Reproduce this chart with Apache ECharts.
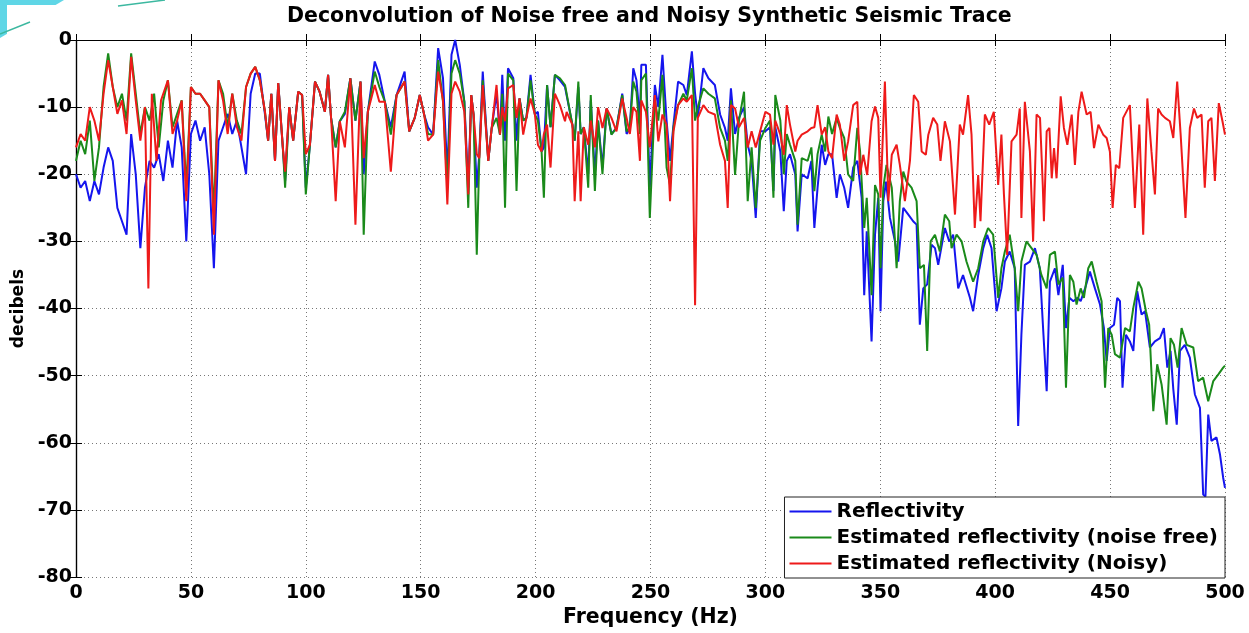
<!DOCTYPE html>
<html><head><meta charset="utf-8">
<script src="https://cdn.jsdelivr.net/npm/echarts@6/dist/echarts.min.js"></script>
<style>html,body{margin:0;padding:0;background:#fff}#c{width:1249px;height:633px}</style>
</head><body><div id="c"></div>
<script>
const titleText = 'Deconvolution of Noise free and Noisy Synthetic Seismic Trace';
const xName = 'Frequency (Hz)';
const yName = 'decibels';
const seriesNames = ['Reflectivity', 'Estimated reflectivity (noise free)', 'Estimated reflectivity (Noisy)'];

const reflectivity = [[0,-20],[2,-22],[4,-21],[6,-24],[8,-21],[10,-23],[12,-19],[14,-16],[16,-18],[18,-25],[20,-27],[22,-29],[24,-14],[26,-20],[28,-31],[30,-22],[32,-18],[34,-19],[36,-17],[38,-21],[40,-15],[42,-19],[44,-12],[46,-16],[48,-30],[50,-14],[52,-12],[54,-15],[56,-13],[58,-20],[60,-34],[62,-15],[64,-13],[66,-11],[68,-14],[70,-12],[72,-16],[74,-20],[76,-8],[78,-5],[80,-5],
[82.2,-11],[83.6,-15],[85,-8],[86.6,-18],[88,-6.4],[90,-16],[91,-21],[92.8,-10],[94.5,-15],[96.7,-7.7],[98.4,-8.2],[100,-22],[101.8,-15.6],[104,-6.2],[106,-7.7],[108.3,-10.7],[109.7,-5.2],[111,-11.6],[113,-16],[114.8,-12.1],[117,-11],[119.4,-5.7],[121.6,-12],[123.8,-6.2],[125.2,-20],[127,-10.7],[130,-3.2],[132,-5.2],[134.4,-9.2],[137,-13],[139.5,-8.2],[143,-4.7],[145,-13.6],[147.4,-11.6],[149.6,-8.2],[151.5,-11.1],[153.2,-13],[155.4,-14.1],[157.6,-1.2],[159.7,-5.7],[161.6,-20],[163.4,-2.2],[165,0],[167,-3.7],[169,-9.2],[170.7,-22],[172,-8.2],[173,-11.1],[174.4,-22],[175.5,-17],[177,-4.7],[179.4,-18],[180.9,-13.1],[183,-8],[184.5,-14.1],[185.5,-5.2],[186.7,-15],[188,-4.2],[190.3,-5.7],[191.7,-15],[193,-8.7],[194.6,-12],[196,-11.6],[197.8,-5.2],[199.7,-11.1],[201,-10.7],[202.6,-16.6],[203.6,-16],[205,-6.7],[206.5,-13],[208.4,-5.2],[210.6,-6],[212.8,-7],[216,-12.6],[217,-15],[218.6,-7],[219.6,-14],[221,-13],[222.9,-20],[224,-9],[225.8,-20],[227.2,-12],[229.1,-19],[230.9,-10.2],[233,-14],[235.2,-13.1],[237.7,-8],[239.6,-14],[241,-13.1],[242.5,-4.2],[243.9,-6],[245.4,-12],[246,-3.7],[248,-3.7],[249.7,-22],[251.9,-6.7],[253.4,-10],[255.2,-2.2],[257,-12],[258.5,-18],[260,-12.6],[262,-6.2],[264.3,-6.7],[265.8,-8.2],[268,-1.7],[269.4,-8],[270.6,-11.6],[273,-4.2],[275.2,-5.7],[278,-6.7],[280.3,-11.1],[282.4,-13.1],[283.6,-15],[285,-7.2],[286.8,-14],[288.5,-11.6],[290.7,-10],[292.3,-15.6],[294,-18],[295.8,-26.5],[297.7,-13.6],[300,-13.6],[302,-13],[303.5,-22.5],[304.3,-13],[306.5,-16.6],[308,-25.5],[309.3,-18],[310.7,-17],[313,-20],[314,-28.5],[315.8,-20],[318.4,-20.6],[320,-18],[321.3,-28],[322.7,-22],[324.5,-15.6],[326,-18.6],[327.4,-17],[329,-17],[331,-23.5],[332.4,-20],[334.3,-22],[336,-25],[338.2,-19],
[340,-18],[341.9,-23.5],[343,-38],[344.1,-28.5],[346.2,-44.9],[347.7,-29],[349.1,-23.5],[350.1,-40.4],[351.3,-24],[352.5,-21.1],[354.2,-26.5],[356.4,-30],[357.8,-33],[360,-25],[362.2,-26],[364.3,-27],[365.8,-27.5],[367.2,-42.4],[368.7,-37],[370.4,-36.4],[372.3,-30.5],[373.8,-31],[375.2,-33.5],[378.1,-28],[380,-30],[381.7,-29],[383.9,-37],[386,-35],[389,-38.4],[390.4,-40.4],[392.6,-35],[394.8,-31],[396.5,-29],[398.4,-31],[400.6,-40.4],[402.7,-37],[404.2,-33],[406.3,-31.5],[408.5,-34],[410,-57.5],[411.4,-43.9],[412.9,-33.5],[415.1,-33],[417.3,-31],[419.4,-34],[421,-43.9],[422.4,-52.3],[423.8,-36],[426,-34],[427.5,-38],[429.4,-33.5],[430.8,-42.9],[432.3,-38.4],[434,-38.9],[435.8,-38.4],[437.2,-38.9],[439.1,-37],[441.2,-34.5],[443.4,-37],[445.6,-39.4],[447.3,-42.9],[448.5,-47.8],[449.9,-42.9],[451.7,-42.4],[453.1,-38.4],[454.3,-38.9],[455.4,-51.8],[456.9,-43.9],[458.6,-44.9],[460.1,-46.3],[461.8,-37.4],[463.7,-40.9],[465.2,-40.4],[467.3,-45.8],[469.5,-44.9],[471.7,-44.4],[473.4,-42.9],[474.9,-48.8],[476.3,-46.3],[477.5,-52],[479,-57.3],[480.4,-46.3],[482.5,-45.4],[484.7,-47.3],[486.9,-52.8],[489.1,-54.8],[490.5,-67.7],[491.5,-68],[492.7,-55.8],[494.1,-59.7],[496.3,-59.2],[497.8,-61.7],[499.2,-65.2],[500,-66.7]];

const estNoiseFree = [[0,-18],[2,-15],[4,-17],[6,-12],[8,-21],[10,-16],[12,-7],[14,-2],[16,-7],[18,-10],[20,-8],[22,-12],[24,-2],[26,-8],[28,-14],[30,-10],[32,-12],[34,-8],[36,-16],[38,-9],[40,-6],[42,-13],[44,-11],[46,-9],[48,-22],[50,-7],[52,-8],[54,-8],[56,-9],[58,-10],[60,-26],[62,-6],[64,-8],[66,-13],[68,-8],[70,-12],[72,-14],[74,-7],[76,-5],[78,-4],[80,-6],
[82.2,-10.6],[83.6,-15],[85,-8],[86.6,-18],[88,-6.4],[90,-16],[91,-22],[92.8,-10],[94.5,-15],[96.7,-7.7],[98.4,-8.2],[100,-23],[101.8,-15.6],[104,-6.2],[106,-7.7],[108.3,-10.7],[109.7,-5.2],[111,-11.6],[113,-16],[114.8,-12.1],[117,-10.7],[119.4,-5.7],[121.6,-12],[123.8,-6.2],[125.2,-29],[127,-10.7],[130,-4.7],[132,-7],[134.4,-9.2],[137,-14.1],[139.5,-8.2],[143,-6.2],[145,-13.6],[147.4,-11.6],[149.6,-8.2],[151.5,-11.1],[153.2,-14],[155.4,-14.1],[157.6,-3],[159.7,-9.2],[161.6,-22],[163.4,-5],[165,-3],[167,-5],[169,-9.2],[170.7,-25],[172,-8.2],[173,-11.1],[174.4,-32],[175.5,-17.6],[177,-6],[179.4,-18],[180.9,-13.1],[183,-11.6],[184.5,-14.1],[185.5,-8],[186.7,-25],[188,-5],[190.3,-6],[191.7,-22.5],[193,-8.7],[194.6,-12],[196,-11.6],[197.8,-6],[199.7,-11.1],[201,-12],[202.6,-16.6],[203.6,-23.5],[205,-6.7],[206.5,-13],[208.4,-5.2],[210.6,-5.7],[212.8,-6.7],[216,-12.6],[217,-15],[218.6,-6.2],[219.6,-14],[221,-13],[222.9,-22],[224,-8.2],[225.8,-22.5],[227.2,-12],[229.1,-20],[230.9,-10.2],[233,-14.1],[235.2,-13.1],[237.7,-8.2],[239.6,-13.6],[241,-13],[242.5,-6.2],[243.9,-7.7],[245.4,-14],[246,-6],[248,-5],[249.7,-26.5],[251.9,-9],[253.4,-12],[255.2,-5.2],[257,-19],[258.5,-21.6],[260,-13],[262,-9.7],[264.3,-8],[265.8,-9],[268,-4.2],[269.4,-12],[270.6,-10],[273,-7.2],[275.2,-8],[278,-8.7],[280.3,-13.1],[282.4,-15],[283.6,-18],[285,-9],[286.8,-20.1],[288.5,-12],[290.7,-7.7],[292.3,-24],[294,-16],[295.8,-25],[297.7,-15],[300,-13.1],[302,-12],[303.5,-23.5],[304.3,-8.2],[306.5,-12],[308,-20],[309.3,-14],[310.7,-15.6],[313,-18],[314,-27.5],[315.8,-17.6],[318.4,-18],[320,-16],[321.3,-22.5],[322.7,-17],[324.5,-14.1],[326,-16.6],[327.4,-11.4],[329,-14],[331,-11.6],[332.4,-13.1],[334.3,-14.6],[336,-20],[338.2,-21],
[340,-13.1],[341.2,-16.6],[343,-28],[344.1,-23.5],[346.2,-38],[347.7,-21.6],[349.1,-23],[350.1,-34],[351.3,-22],[352.7,-18.6],[355,-22],[357.1,-34],[358.5,-24],[360,-19.6],[361.4,-21.1],[363.6,-22],[365.8,-24],[367.2,-34],[369,-33.5],[370.4,-46.3],[371.9,-30],[373.8,-29],[375.9,-31.5],[378.1,-26],[380,-27],[381,-31],[383.2,-29],[385.4,-30],[387.5,-33],[390.4,-36],[392.6,-34],[394.8,-30],[396.9,-28],[399.1,-29],[401.3,-38.4],[402.7,-34],[404.2,-31.5],[406.3,-29],[408.5,-34],[410,-40.4],[411.4,-33],[413.6,-30],[415.8,-31],[418,-32],[420.1,-35],[422.4,-37],[423.8,-32],[426,-31.5],[427.5,-36.4],[429.4,-35.4],[430.8,-51.8],[432.5,-35],[434,-36],[435.4,-39.4],[437.2,-37],[438.6,-38.4],[440.5,-34],[442,-33],[444.1,-36],[446.3,-38.9],[447.8,-51.8],[449.2,-42.9],[450.7,-43.9],[452.1,-46.8],[454.3,-47.3],[456.5,-42.9],[458.6,-43.4],[460.1,-39.9],[462.3,-36],[463.7,-37],[465.6,-40.4],[467,-42.4],[468.8,-55.3],[470.5,-48.3],[472.4,-51.3],[474.6,-57.3],[476.3,-44.4],[477.8,-45.4],[479.4,-48.8],[481.1,-42.9],[483.3,-45.4],[486.2,-45.8],[488.3,-50.8],[490.5,-50.3],[492.7,-53.8],[494.9,-50.8],[497.1,-49.8],[499.2,-48.8],[500,-48.5]];

const estNoisy = [[0,-16],[2,-14],[4,-15],[6,-10],[8,-12],[10,-15],[12,-8],[14,-3],[16,-7],[18,-11],[20,-9],[22,-14],[24,-2.5],[26,-9],[28,-15],[30,-10],[31.5,-37],[33,-8],[35,-18],[37,-9],[40,-6],[42,-14],[44,-12],[46,-9],[48,-24],[50,-7],[52,-8],[54,-8],[56,-9],[58,-10],[60,-29],[62,-6],[64,-9],[66,-14],[68,-8],[70,-13],[72,-15],[74,-7],[76,-5],[78,-4],[80,-6],
[82.2,-10.6],[83.6,-15],[85,-8],[86.6,-18],[88,-6.4],[90,-16],[91,-19.6],[92.8,-10],[94.5,-15],[96.7,-7.7],[98.4,-8.2],[100,-17],[101.8,-15.6],[104,-6.2],[106,-7.7],[108.3,-10.7],[109.7,-5.2],[111,-11.6],[113,-24],[114.8,-12.1],[117,-16],[119.4,-5.7],[121.6,-27.5],[123.8,-6.2],[125.2,-17.6],[127,-10.7],[130,-6.7],[132,-9.2],[134.4,-9.2],[137,-19.6],[139.5,-8.2],[143,-6.2],[145,-13.6],[147.4,-11.6],[149.6,-8.2],[151.5,-11.1],[153.2,-15],[155.4,-14.1],[157.6,-4.7],[159.7,-9],[161.6,-24.5],[163.4,-8],[165,-6.2],[167,-7.7],[169,-10.7],[170.7,-23],[172,-8.2],[173,-11.1],[174.4,-17],[175.5,-17.6],[177,-6.7],[179.4,-18],[180.9,-13.1],[183,-6.7],[184.5,-14.1],[185.5,-10],[186.7,-12.1],[188,-7.2],[190.3,-6.7],[191.7,-11.6],[193,-8.7],[194.6,-14.1],[196,-11.6],[197.8,-8.7],[199.7,-11.1],[201,-15.6],[202.6,-16.6],[203.6,-14],[205,-12.6],[206.5,-19],[208.4,-8],[210.6,-9.7],[212.8,-12.1],[213.5,-10.7],[216,-12.6],[217,-24],[218.6,-13.6],[219.6,-24],[221,-13],[222.9,-15.6],[224,-12],[225.8,-16],[227.2,-10],[229.1,-13.1],[230.9,-10.2],[233,-11.6],[235.2,-13.6],[237.7,-8.7],[239.6,-11.6],[241,-14],[242.5,-10],[243.9,-10.7],[245.4,-18],[246,-9],[248,-10.7],[249.7,-16],[251.9,-8.2],[253.4,-15.1],[255.2,-11.1],[257,-12.6],[258.5,-24],[260,-13.6],[262,-9.7],[264.3,-8.7],[265.8,-9.2],[268,-8.2],[269.4,-39.5],[270.6,-11.6],[273,-9.7],[275.2,-10.7],[278,-11.1],[280.3,-15.6],[282.4,-18],[283.6,-25],[285,-9.7],[286.8,-10.2],[288.5,-13],[290.7,-11.6],[292.3,-16],[294,-13.6],[295.8,-16],[297.7,-13.6],[300,-10.7],[302,-11.1],[303.5,-15.6],[304.3,-12],[306.5,-14.1],[308,-17.1],[309.3,-9.7],[310.7,-12.6],[313,-16.6],[314,-15],[315.8,-14.1],[318.4,-13.6],[320,-13.1],[321.3,-13],[322.7,-9.7],[324.5,-14.1],[326,-13],[327.4,-16.6],[329,-17.6],[331,-11.1],[332.4,-12.6],[334.3,-18],[336,-15.1],[338.2,-9.7],
[340,-9.2],[341.2,-20.1],[342.6,-17.1],[344.3,-20.1],[346.2,-12.1],[347.7,-9.9],[349.1,-11.6],[350.1,-23.5],[352,-6.2],[353.5,-24],[355,-17.1],[357.1,-15.6],[358.5,-18.6],[360.7,-24],[362.9,-18],[364.6,-8.2],[366.5,-9.2],[368,-16.6],[369.8,-17.1],[370.9,-14.1],[373,-11.6],[374.8,-12.6],[376.2,-18],[378.1,-12.1],[380.3,-15.1],[382.5,-26],[384.6,-12.6],[386,-14.1],[388.2,-8.2],[389.7,-14.1],[391.1,-28],[392.6,-20.1],[393.6,-27],[395.5,-11.1],[397.4,-12.6],[399.4,-10.7],[401.3,-21.6],[402.7,-14.1],[403.8,-23],[405.2,-32],[407.1,-15.1],[409.3,-14.1],[410.7,-10.2],[411.4,-26.5],[412.9,-9.2],[415.1,-16.6],[416.5,-30],[418,-11.1],[419.5,-11.6],[420.7,-21.6],[421.2,-27],[422.4,-13.6],[423.6,-13.1],[424.6,-20.6],[425.6,-16.1],[426.7,-20.6],[428.5,-8.4],[429.9,-13.1],[431.4,-15.6],[433.3,-11.1],[434.7,-18.6],[436.2,-10.7],[437.6,-7.7],[439.8,-11.1],[441.5,-10.7],[443,-16.1],[444.9,-12.6],[447,-14.1],[448.5,-14.6],[449.9,-16.6],[451.1,-25],[452.5,-18.6],[454,-19.1],[455.7,-11.6],[458.6,-9.7],[460.8,-25],[462.7,-12.6],[464.4,-29],[466.2,-8.7],[468,-16.6],[469.5,-23],[470.9,-10.2],[472.4,-11.1],[473.9,-11.6],[476,-12.1],[477.5,-14.6],[479.2,-6.2],[480.7,-14.1],[482.8,-26.5],[484.7,-13.1],[486.5,-10.2],[487.9,-11.6],[489.8,-11.1],[491.2,-22],[492.7,-12.1],[494.1,-11.6],[495.6,-21],[497.3,-9.4],[498.9,-12.1],[500,-14.1]];

const xMin = 0, xMax = 500, xStep = 50;
const yMin = -80, yMax = 0, yStep = 10;

const chart = echarts.init(document.getElementById('c'), null, {renderer: 'canvas'});
const font = '"DejaVu Sans", Verdana, sans-serif';
const lbl = {color: '#000', fontFamily: font, fontWeight: 'bold', fontSize: 19};
const colors = ['#1515ee', '#1a8a1a', '#ee1a1a'];

function mk(name, data, color) {
  return {name, type: 'line', data, symbol: 'none', showSymbol: false,
    lineStyle: {color, width: 2}, itemStyle: {color}, animation: false};
}

chart.setOption({
  animation: false,
  backgroundColor: '#fff',
  graphic: [
    {type: 'polygon', z: -10, shape: {points: [[0,0],[64,0],[0,38]]}, style: {fill: '#5fd6e6'}},
    {type: 'rect', z: -9, shape: {x: 7, y: 5, width: 1249, height: 633}, style: {fill: '#fff'}},
    {type: 'line', z: -8, shape: {x1: 118, y1: 6, x2: 165, y2: 0}, style: {stroke: '#3cb8a0', lineWidth: 1.5}},
    {type: 'line', z: -8, shape: {x1: 0, y1: 34, x2: 30, y2: 22}, style: {stroke: '#3cb8a0', lineWidth: 1.5}}
  ],
  title: {text: titleText, left: 287, top: 6, padding: 0,
    textStyle: {color: '#000', fontFamily: font, fontWeight: 'bold', fontSize: 20.5}},
  grid: {left: 76, right: 24, top: 40, bottom: 55, containLabel: false},
  legend: {
    data: seriesNames, orient: 'vertical', right: 24, bottom: 55,
    icon: 'rect',
    backgroundColor: '#fff', borderColor: '#222', borderWidth: 1,
    padding: [4, 7, 4, 5], itemWidth: 42, itemHeight: 2, itemGap: 5,
    textStyle: Object.assign({}, lbl, {lineHeight: 21, fontSize: 20})
  },
  xAxis: [
    {type: 'value', min: xMin, max: xMax, interval: xStep, position: 'bottom',
      name: xName, nameLocation: 'middle', nameGap: 26,
      nameTextStyle: Object.assign({}, lbl, {fontSize: 20.5}),
      axisLine: {lineStyle: {color: '#000', width: 1.2}},
      axisTick: {inside: true, length: 6, lineStyle: {color: '#000'}},
      axisLabel: Object.assign({margin: 6}, lbl),
      splitLine: {show: true, lineStyle: {color: '#777', type: [1, 3], width: 1}}},
    {type: 'value', min: xMin, max: xMax, interval: xStep, position: 'top',
      axisLine: {lineStyle: {color: '#000', width: 1.2}},
      axisTick: {inside: true, length: 6, lineStyle: {color: '#000'}},
      axisLabel: {show: false}, splitLine: {show: false}}
  ],
  yAxis: [
    {type: 'value', min: yMin, max: yMax, interval: yStep, position: 'left',
      name: yName, nameLocation: 'middle', nameGap: 48, nameRotate: 90,
      nameTextStyle: Object.assign({}, lbl, {fontSize: 17}),
      axisLine: {lineStyle: {color: '#000', width: 1.2}},
      axisTick: {inside: true, length: 6, lineStyle: {color: '#000'}},
      axisLabel: Object.assign({margin: 4}, lbl),
      splitLine: {show: true, lineStyle: {color: '#777', type: [1, 3], width: 1}}},
    {type: 'value', min: yMin, max: yMax, interval: yStep, position: 'right',
      axisLine: {lineStyle: {color: '#000', width: 1.2}},
      axisTick: {inside: true, length: 6, lineStyle: {color: '#000'}},
      axisLabel: {show: false}, splitLine: {show: false}}
  ],
  series: [
    mk(seriesNames[0], reflectivity, colors[0]),
    mk(seriesNames[1], estNoiseFree, colors[1]),
    mk(seriesNames[2], estNoisy, colors[2])
  ]
});
</script>
</body></html>
